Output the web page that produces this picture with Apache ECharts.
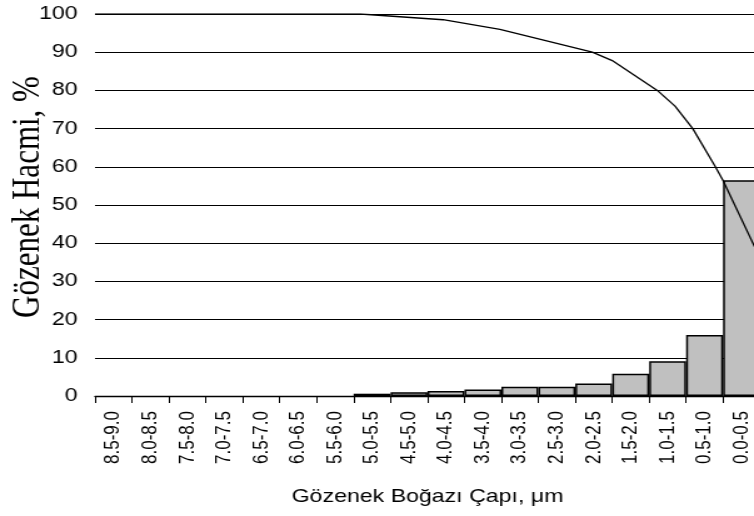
<!DOCTYPE html>
<html>
<head>
<meta charset="utf-8">
<script src="https://cdn.jsdelivr.net/npm/echarts@6/dist/echarts.min.js"></script>
<style>
  html, body { margin: 0; padding: 0; background: #fff; }
  #frame { width: 754px; height: 516px; overflow: hidden; position: relative; }
  /* chart is laid out narrower and widened, giving the broad lettering */
  #chart { width: 603px; height: 516px; transform: scaleX(1.2504); transform-origin: 0 0; }
</style>
</head>
<body>
<div id="frame"><div id="chart"></div></div>
<script>
// Pore-throat diameter classes, µm (largest on the left)
const categories = ['8.5-9.0', '8.0-8.5', '7.5-8.0', '7.0-7.5', '6.5-7.0', '6.0-6.5',
  '5.5-6.0', '5.0-5.5', '4.5-5.0', '4.0-4.5', '3.5-4.0', '3.0-3.5', '2.5-3.0',
  '2.0-2.5', '1.5-2.0', '1.0-1.5', '0.5-1.0', '0.0-0.5'];

// Pore volume in each class, %
const classVolumes = [null, null, null, null, null, null, null,
  0.6, 1.0, 1.3, 1.7, 2.4, 2.4, 3.3, 5.8, 9.1, 16.0, 56.5];

// Cumulative pore volume curve: diameter (µm) and volume (%)
const curveDiameters = [9.0, 5.41, 4.29, 3.52, 2.27, 2.0, 1.39, 1.15, 0.91, 0.61, 0.5, 0.0];
const curveVolumes = [100, 100, 98.5, 96.0, 90.0, 87.8, 80.0, 75.9, 70.0, 60.2, 56.4, 36.1];

const yTicks = { min: 0, max: 100, interval: 10 };

const chart = echarts.init(document.getElementById('chart'), null, { renderer: 'canvas' });

const sans = '"Liberation Sans", Arial, sans-serif';
const serif = '"Liberation Serif", "Times New Roman", serif';

chart.setOption({
  animation: false,
  backgroundColor: '#fff',
  grid: {
    left: 76, right: -4.8, top: 14, bottom: 120,
    containLabel: false, outerBoundsMode: 'none'
  },
  xAxis: [
    {
      type: 'category',
      data: categories,
      boundaryGap: true,
      name: 'Gözenek Boğazı Çapı, μm',
      nameLocation: 'middle',
      nameGap: 91,
      nameMoveOverlap: false,
      nameTextStyle: { fontFamily: sans, fontSize: 18.5, color: '#000' },
      axisLine: { show: true, lineStyle: { color: '#000', width: 1.3 } },
      axisTick: { show: true, length: 7, interval: 0, lineStyle: { color: '#000', width: 1 } },
      axisLabel: {
        show: true, interval: 0, rotate: 90, margin: 15, hideOverlap: false,
        fontFamily: sans, fontSize: 17, color: '#000'
      },
      splitLine: { show: false }
    },
    {
      type: 'value',
      min: 0, max: 9,
      inverse: true,
      show: false
    }
  ],
  yAxis: {
    type: 'value',
    min: yTicks.min, max: yTicks.max, interval: yTicks.interval,
    name: 'Gözenek Hacmi, %',
    nameLocation: 'middle',
    nameRotate: 90,
    nameGap: 38,
    nameMoveOverlap: false,
    nameTextStyle: { fontFamily: serif, fontSize: 31, color: '#000', padding: [0, 0, 0, 16] },
    axisLine: { show: true, lineStyle: { color: '#000', width: 1.3 } },
    axisTick: { show: true, length: 6, lineStyle: { color: '#000', width: 1 } },
    axisLabel: { margin: 14, fontFamily: sans, fontSize: 18.5, color: '#000' },
    splitLine: { show: true, lineStyle: { color: '#000', width: 1 } }
  },
  series: [
    {
      type: 'bar',
      xAxisIndex: 0,
      data: classVolumes,
      barWidth: '100%',
      barGap: '0%',
      itemStyle: { color: '#c0c0c0', borderColor: '#000', borderWidth: 1.5 },
      z: 3
    },
    {
      type: 'line',
      xAxisIndex: 1,
      data: curveDiameters.map((d, i) => [d, curveVolumes[i]]),
      symbol: 'none',
      smooth: false,
      lineStyle: { color: '#000', width: 1.3 },
      z: 4
    }
  ]
});
</script>
</body>
</html>
